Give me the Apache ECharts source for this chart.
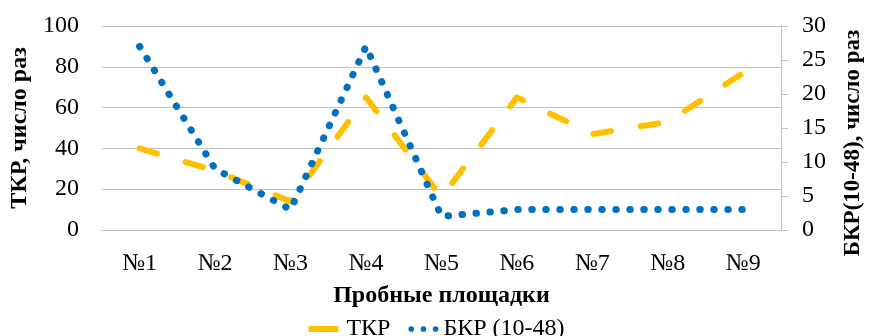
<!DOCTYPE html>
<html>
<head>
<meta charset="utf-8">
<script src="https://cdn.jsdelivr.net/npm/echarts@6/dist/echarts.min.js"></script>
<style>
html,body{margin:0;padding:0;background:#fff;}
#c{width:873px;height:336px;}
</style>
</head>
<body>
<div id="c"></div>
<script>
const categories = ['№1','№2','№3','№4','№5','№6','№7','№8','№9'];
const tkr = [40, 29, 14, 65, 16, 65, 47, 53, 77];
const bkr = [27, 9, 3, 27, 2, 3, 3, 3, 3];
const leftTicks = [0, 20, 40, 60, 80, 100];
const rightTicks = [0, 5, 10, 15, 20, 25, 30];

const FONT = '"Liberation Serif", "Times New Roman", serif';
const dotsIcon = 'path://M0,3a3,3 0 1,0 6,0a3,3 0 1,0 -6,0z M13,3a3,3 0 1,0 6,0a3,3 0 1,0 -6,0z M26,3a3,3 0 1,0 6,0a3,3 0 1,0 -6,0z';
const chart = echarts.init(document.getElementById('c'), null, {renderer: 'canvas'});
chart.setOption({
  animation: false,
  textStyle: {fontFamily: FONT},
  grid: {left: 97, right: 80, top: 26, bottom: 106, containLabel: false},
  legend: {
    top: 312, left: 'center',
    itemWidth: 30, itemHeight: 6, itemGap: 18,
    textStyle: {fontFamily: FONT, fontSize: 24, color: '#000'},
    data: [
      {name: 'ТКР', icon: 'roundRect', itemStyle: {color: '#FFC000'}, textStyle: {padding: [0, 0, 0, 3]}},
      {name: 'БКР (10-48)', icon: dotsIcon, itemStyle: {color: '#0070C0'}}
    ]
  },
  xAxis: {
    type: 'category',
    data: categories,
    boundaryGap: true,
    name: 'Пробные площадки',
    nameLocation: 'middle',
    nameGap: 54,
    nameTextStyle: {fontFamily: FONT, fontSize: 24, fontWeight: 'bold', color: '#000'},
    axisLine: {show: true, lineStyle: {color: '#BFBFBF', width: 1}},
    axisTick: {show: false},
    axisLabel: {fontFamily: FONT, fontSize: 24, color: '#000', margin: 22}
  },
  yAxis: [
    {
      type: 'value', min: leftTicks[0], max: leftTicks[leftTicks.length-1], interval: 20,
      position: 'left',
      name: 'ТКР, число раз',
      nameLocation: 'middle', nameRotate: 90, nameGap: 55,
      nameTextStyle: {fontFamily: FONT, fontSize: 24, fontWeight: 'bold', color: '#000'},
      axisLine: {show: false},
      axisTick: {show: false},
      axisLabel: {fontFamily: FONT, fontSize: 24, color: '#000', margin: 23},
      splitLine: {show: true, lineStyle: {color: '#BFBFBF', width: 1}}
    },
    {
      type: 'value', min: rightTicks[0], max: rightTicks[rightTicks.length-1], interval: 5,
      position: 'right',
      name: 'БКР(10-48), число раз',
      nameLocation: 'middle', nameRotate: 90, nameGap: 61,
      nameTextStyle: {fontFamily: FONT, fontSize: 23, fontWeight: 'bold', color: '#000', padding: [0, 30, 0, 0]},
      axisLine: {show: true, lineStyle: {color: '#BFBFBF', width: 1}},
      axisTick: {show: true, inside: false, length: 7, lineStyle: {color: '#BFBFBF'}},
      axisLabel: {fontFamily: FONT, fontSize: 24, color: '#000', margin: 21},
      splitLine: {show: false}
    }
  ],
  series: [
    {
      name: 'ТКР', type: 'line', yAxisIndex: 0, data: tkr,
      symbol: 'none', showSymbol: false,
      color: '#FFC000',
      lineStyle: {color: '#FFC000', width: 6, type: [18, 30], cap: 'round', join: 'round'}
    },
    {
      name: 'БКР (10-48)', type: 'line', yAxisIndex: 1, data: bkr,
      symbol: 'none', showSymbol: false,
      color: '#0070C0',
      lineStyle: {color: '#0070C0', width: 7, type: [0.5, 13.5], cap: 'round', join: 'round'}
    }
  ]
});
</script>
</body>
</html>
